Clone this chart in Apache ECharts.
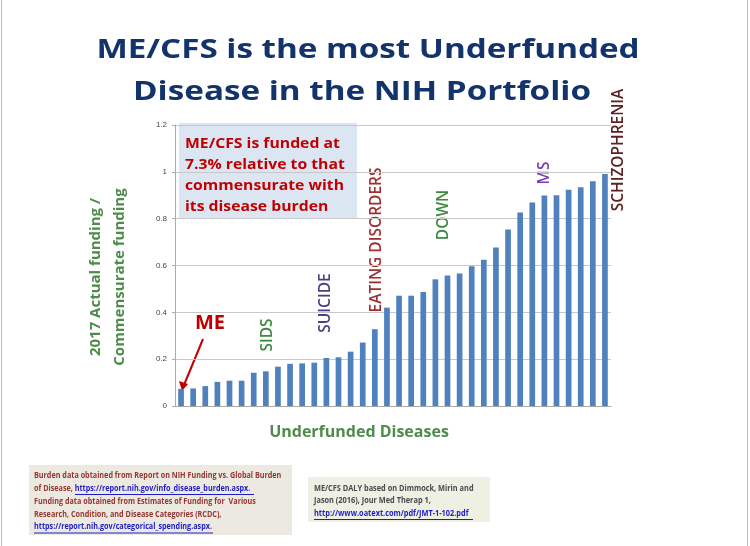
<!DOCTYPE html>
<html>
<head>
<meta charset="utf-8">
<script src="https://cdn.jsdelivr.net/npm/echarts@6/dist/echarts.min.js"></script>
<style>
  html, body { margin: 0; padding: 0; background: #fff; }
  #chart { width: 750px; height: 546px; }
</style>
</head>
<body>
<div id="chart"></div>
<script>
// funding ratio per disease, sorted ascending (ME/CFS first)
const diseases = [
  'ME/CFS', 'D2', 'D3', 'D4', 'D5', 'D6', 'SIDS', 'D8', 'D9', 'D10', 'D11', 'SUICIDE',
  'D13', 'D14', 'D15', 'D16', 'D17', 'EATING DISORDERS', 'D19', 'D20', 'D21', 'DOWN',
  'D23', 'D24', 'D25', 'D26', 'D27', 'D28', 'D29', 'D30', 'MS', 'D32', 'D33', 'D34',
  'D35', 'SCHIZOPHRENIA'
];
const ratios = [
  0.073, 0.075, 0.085, 0.103, 0.108, 0.108, 0.142, 0.148, 0.168, 0.180, 0.182, 0.185,
  0.205, 0.208, 0.232, 0.271, 0.328, 0.420, 0.471, 0.471, 0.487, 0.541,
  0.557, 0.566, 0.597, 0.625, 0.677, 0.754, 0.826, 0.869, 0.899, 0.900, 0.923, 0.934,
  0.960, 0.991
];
const yTicks = [0, 0.2, 0.4, 0.6, 0.8, 1, 1.2];

const chart = echarts.init(document.getElementById('chart'));

const navy = '#13336b';
const green = '#4f8b4a';
const red = '#c00000';
const font = '"Open Sans", sans-serif';

function vtext(x, y, text, color, size) {
  return {
    type: 'text', x: x, y: y, rotation: Math.PI / 2,
    style: { text: text, fill: color, font: '600 ' + size + 'px ' + font, align: 'center', verticalAlign: 'middle' }
  };
}

function uline(x1, x2, y) {
  return { type: 'line', shape: { x1: x1, y1: y, x2: x2, y2: y }, style: { stroke: '#1c1cc8', lineWidth: 1 } };
}

const option = {
  animation: false,
  grid: { left: 175, right: 139, top: 125, bottom: 140, containLabel: false },
  xAxis: {
    type: 'category',
    data: diseases,
    axisLine: { lineStyle: { color: '#aaa' } },
    axisTick: { show: false },
    axisLabel: { show: false }
  },
  yAxis: {
    type: 'value',
    min: 0, max: 1.2, interval: 0.2,
    axisLine: { show: true, lineStyle: { color: '#aaa' } },
    axisTick: { show: true, length: 3, lineStyle: { color: '#aaa' } },
    axisLabel: {
      fontSize: 8, color: '#444', fontFamily: 'Liberation Sans', margin: 8,
      formatter: v => yTicks.includes(+v.toFixed(1)) ? String(+v.toFixed(1)) : ''
    },
    splitLine: { lineStyle: { color: '#c8c8c8', width: 1 } }
  },
  series: [{
    type: 'bar',
    data: ratios,
    barWidth: '47%',
    itemStyle: { color: '#4f81bd' }
  }],
  graphic: [
    // slide border
    { type: 'rect', shape: { x: 1.5, y: -2, width: 746, height: 550 }, style: { fill: 'none', stroke: '#bbb', lineWidth: 1 }, z: 100 },
    // title
    {
      type: 'text', x: 368, y: 50.5, scaleX: 1.23,
      style: { text: 'ME/CFS is the most Underfunded', fill: navy, font: 'bold 27px ' + font, align: 'center', verticalAlign: 'middle' }
    },
    {
      type: 'text', x: 362, y: 92.5, scaleX: 1.23,
      style: { text: 'Disease in the NIH Portfolio', fill: navy, font: 'bold 27px ' + font, align: 'center', verticalAlign: 'middle' }
    },
    // callout box
    { type: 'rect', shape: { x: 179, y: 123, width: 178, height: 95 }, style: { fill: '#dce6f2' } },
    {
      type: 'text', x: 185, y: 175, scaleX: 1.05,
      style: {
        text: 'ME/CFS is funded at\n7.3% relative to that\ncommensurate with\nits disease burden',
        fill: red, font: 'bold 15px ' + font, lineHeight: 21, align: 'left', verticalAlign: 'middle'
      }
    },
    // y axis name
    {
      type: 'text', x: 108, y: 277, rotation: Math.PI / 2,
      style: {
        text: '2017 Actual funding /\nCommensurate funding', fill: green,
        font: 'bold 15px ' + font, lineHeight: 24, align: 'center', verticalAlign: 'middle'
      }
    },
    // x axis name
    {
      type: 'text', x: 359, y: 432,
      style: { text: 'Underfunded Diseases', fill: green, font: 'bold 16px ' + font, align: 'center', verticalAlign: 'middle' }
    },
    // disease labels
    vtext(268, 335, 'SIDS', '#3f8a3f', 15.5),
    vtext(326, 303, 'SUICIDE', '#4f3f80', 15.5),
    vtext(377, 240, 'EATING DISORDERS', '#a0302d', 15.5),
    vtext(444, 215, 'DOWN', '#3f8a3f', 15.5),
    vtext(545, 173, 'MS', '#7a3fb0', 15.5),
    vtext(619, 150, 'SCHIZOPHRENIA', '#5e2220', 15.5),
    // ME pointer
    {
      type: 'text', x: 210, y: 323,
      style: { text: 'ME', fill: red, font: 'bold 20px ' + font, align: 'center', verticalAlign: 'middle' }
    },
    { type: 'line', shape: { x1: 203, y1: 339, x2: 184, y2: 385 }, style: { stroke: red, lineWidth: 2 } },
    { type: 'polygon', shape: { points: [[182, 391], [179, 381], [188, 384]] }, style: { fill: red } },
    // source boxes
    { type: 'rect', shape: { x: 29, y: 465, width: 263, height: 70 }, style: { fill: '#eceae0' } },
    {
      type: 'text', x: 34, y: 469, scaleX: 0.76,
      style: {
        text: '{r|Burden data obtained from Report on NIH Funding vs. Global Burden}\n' +
              '{r|of Disease, }{u|https://report.nih.gov/info_disease_burden.aspx}{r|.}\n' +
              '{r|Funding data obtained from Estimates of Funding for  Various}\n' +
              '{r|Research, Condition, and Disease Categories (RCDC),}\n' +
              '{u|https://report.nih.gov/categorical_spending.aspx}{r|.}',
        rich: {
          r: { fill: '#943634', font: 'bold 9.5px ' + font, lineHeight: 12.8 },
          u: { fill: '#1c1cc8', font: 'bold 9.5px ' + font, lineHeight: 12.8 }
        }
      }
    },
    uline(75, 254, 494.5),
    uline(34, 213, 533),
    { type: 'rect', shape: { x: 308, y: 477, width: 182, height: 45 }, style: { fill: '#eef0e4' } },
    {
      type: 'text', x: 314, y: 482, scaleX: 0.775,
      style: {
        text: '{g|ME/CFS DALY based on Dimmock, Mirin and}\n{g|Jason (2016), Jour Med Therap 1,}\n{u|http://www.oatext.com/pdf/JMT-1-102.pdf}',
        rich: {
          g: { fill: '#4a4a4a', font: 'bold 9.5px ' + font, lineHeight: 12.5 },
          u: { fill: '#1c1cc8', font: 'bold 9.5px ' + font, lineHeight: 12.5 }
        }
      }
    },
    uline(314, 473, 519.5)
  ]
};

chart.setOption(option);
</script>
</body>
</html>
